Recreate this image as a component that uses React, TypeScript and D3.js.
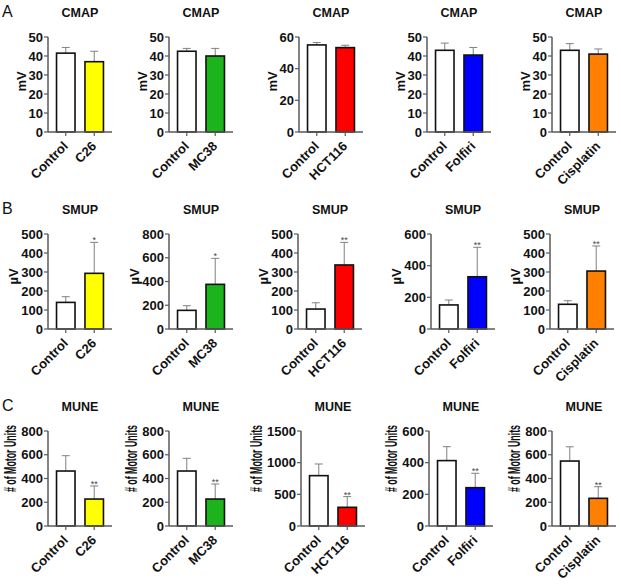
import * as d3 from "d3";
import React from "react";

// treatment groups (second bar of each panel)
const groups = ["C26", "MC38", "HCT116", "Folfiri", "Cisplatin"];
const groupColors = ["#ffff00", "#1cb41c", "#ff0000", "#0000ff", "#ff8000"];

// CMAP (mV): [control, treated]
const cmapMean = [[41.5, 37], [42.5, 40], [55, 53.3], [43, 40.5], [43, 41]];
const cmapSd = [[3, 5.5], [1.5, 4], [1.5, 1.5], [3.8, 4], [3.5, 2.7]];
const cmapTicks = [
    [0, 10, 20, 30, 40, 50],
    [0, 10, 20, 30, 40, 50],
    [0, 20, 40, 60],
    [0, 10, 20, 30, 40, 50],
    [0, 10, 20, 30, 40, 50],
];
const cmapStars = ["", "", "", "", ""];

// SMUP (µV)
const smupMean = [[140, 293], [157, 376], [105, 337], [152, 330], [130, 305]];
const smupSd = [[30, 163], [39, 219], [33, 119], [31, 186], [19, 132]];
const smupTicks = [
    [0, 100, 200, 300, 400, 500],
    [0, 200, 400, 600, 800],
    [0, 100, 200, 300, 400, 500],
    [0, 200, 400, 600],
    [0, 100, 200, 300, 400, 500],
];
const smupStars = ["*", "*", "**", "**", "**"];

// MUNE (# of motor units)
const muneMean = [[463, 227], [463, 227], [795, 295], [413, 242], [547, 233]];
const muneSd = [[129, 110], [107, 127], [184, 169], [88, 91], [120, 98]];
const muneTicks = [
    [0, 200, 400, 600, 800],
    [0, 200, 400, 600, 800],
    [0, 500, 1000, 1500],
    [0, 200, 400, 600],
    [0, 200, 400, 600, 800],
];
const muneStars = ["**", "**", "**", "**", "**"];

const FONT = "'Liberation Sans', Arial, sans-serif";

const rows = [
    { letter: "A", title: "CMAP", yLabel: "mV", mean: cmapMean, sd: cmapSd, ticks: cmapTicks, stars: cmapStars,
      top: 37, axisX: [48, 169, 299, 427, 552], labelShift: -3 },
    { letter: "B", title: "SMUP", yLabel: "\u00b5V", mean: smupMean, sd: smupSd, ticks: smupTicks, stars: smupStars,
      top: 234, axisX: [48, 169, 298, 431, 550], labelShift: -5 },
    { letter: "C", title: "MUNE", yLabel: "# of Motor Units", mean: muneMean, sd: muneSd, ticks: muneTicks, stars: muneStars,
      top: 431, axisX: [48, 169, 301, 429, 552], labelShift: -20 },
];

const plotH = 95;
const plotW = 64;

function Panel({ row, i }) {
    const x0 = row.axisX[i];
    const y0 = row.top;
    const ticks = row.ticks[i];
    const cats = ["Control", groups[i]];
    const x = d3.scaleBand().domain(cats).range([0, plotW]).paddingInner(0.35).paddingOuter(0.3);
    const y = d3.scaleLinear().domain([0, ticks[ticks.length - 1]]).range([plotH, 0]);
    const maxLen = d3.max(ticks, (t) => String(t).length);
    const isLong = row.yLabel.length > 4;
    const labelBase = -(4 + 2 + maxLen * 7.2 + (isLong ? 4 : 2));
    const grey = "#5a5a5a";

    return (
        <g transform={`translate(${x0},${y0})`}>
            <text x={plotW / 2} y={-20} textAnchor="middle" fontSize={12.5} fontWeight="bold" fontFamily={FONT} fill="#111">
                {row.title}
            </text>
            {cats.map((c, j) => {
                const m = row.mean[i][j];
                const s = row.sd[i][j];
                const cx = x(c) + x.bandwidth() / 2;
                return (
                    <g key={c}>
                        <line x1={cx} x2={cx} y1={y(m)} y2={y(m + s)} stroke="#808080" strokeWidth={1} />
                        <line x1={cx - 4} x2={cx + 4} y1={y(m + s)} y2={y(m + s)} stroke="#808080" strokeWidth={1} />
                        <rect x={x(c)} y={y(m)} width={x.bandwidth()} height={plotH - y(m)}
                            fill={j === 0 ? "#ffffff" : groupColors[i]} stroke="#111" strokeWidth={1.6} />
                        {j === 1 && row.stars[i] && (
                            <text x={cx} y={y(m + s) + 1} textAnchor="middle" fontSize={9} fontFamily={FONT} fill="#444">
                                {row.stars[i]}
                            </text>
                        )}
                        <line x1={cx} x2={cx} y1={plotH} y2={plotH + 4} stroke={grey} strokeWidth={1.2} />
                        <text transform={`translate(${cx + 3},${plotH + 15}) rotate(-45)`} textAnchor="end"
                            fontSize={13} fontWeight="bold" fontFamily={FONT} fill="#111">
                            {c}
                        </text>
                    </g>
                );
            })}
            <line x1={0} x2={plotW} y1={plotH} y2={plotH} stroke={grey} strokeWidth={1.5} />
            <line x1={0} x2={0} y1={0} y2={plotH} stroke={grey} strokeWidth={1.5} />
            {ticks.map((t) => (
                <g key={t} transform={`translate(0,${y(t)})`}>
                    <line x1={-4} x2={0} stroke={grey} strokeWidth={1.2} />
                    <text x={-5} dy="0.36em" textAnchor="end" fontSize={13} fontWeight="bold" fontFamily={FONT} fill="#111">
                        {t}
                    </text>
                </g>
            ))}
            <text transform={`translate(${labelBase},${plotH / 2 + row.labelShift}) rotate(-90)`} textAnchor="middle"
                fontSize={isLong ? 16 : 13} fontWeight="bold" fontFamily={FONT} fill="#111"
                textLength={isLong ? 67 : undefined} lengthAdjust={isLong ? "spacingAndGlyphs" : undefined}>
                {row.yLabel}
            </text>
        </g>
    );
}

export default function App() {
    return (
        <svg width={621} height={584} style={{ position: "absolute", left: 0, top: 0, background: "#fff" }}>
            <rect width={621} height={584} fill="#fff" />
            {rows.map((row) => (
                <g key={row.letter}>
                    <text x={2} y={row.top - 20} fontSize={16} fontFamily={FONT} fill="#111">
                        {row.letter}
                    </text>
                    {groups.map((g, i) => (
                        <Panel key={g} row={row} i={i} />
                    ))}
                </g>
            ))}
        </svg>
    );
}
